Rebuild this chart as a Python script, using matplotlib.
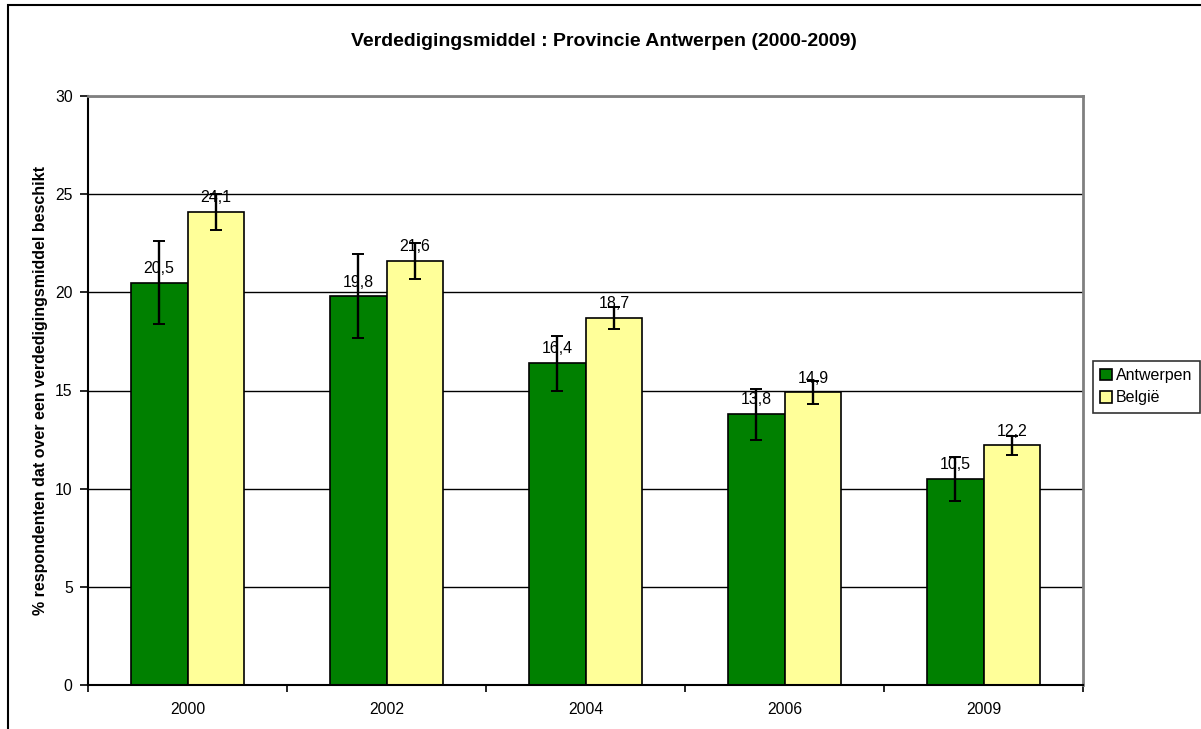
import matplotlib
matplotlib.use("Agg")
import matplotlib.pyplot as plt
import numpy as np
from matplotlib.patches import Rectangle

plt.rcParams['font.family'] = ['Liberation Sans', 'DejaVu Sans']

years = ["2000", "2002", "2004", "2006", "2009"]
antwerpen = [20.5, 19.8, 16.4, 13.8, 10.5]
belgie = [24.1, 21.6, 18.7, 14.9, 12.2]
antwerpen_err = [2.1, 2.15, 1.4, 1.3, 1.13]
belgie_err = [0.92, 0.9, 0.56, 0.57, 0.5]
labels_ant = ["20,5", "19,8", "16,4", "13,8", "10,5"]
labels_bel = ["24,1", "21,6", "18,7", "14,9", "12,2"]

fig = plt.figure(figsize=(12.01, 7.29), dpi=100)
fig.patch.set_facecolor('white')
# outer chart frame
fig.add_artist(Rectangle((8/1201, -0.05), 1.2, 1 - 5/729 + 0.05,
                         transform=fig.transFigure, fill=False,
                         edgecolor='black', linewidth=1.5))

ax = fig.add_axes([88/1201, 44/729, (1083-88)/1201, (685-96)/729])
x = np.arange(len(years))
w = 1/3.5
ax.set_axisbelow(True)
ax.yaxis.grid(True, color='black', linewidth=1)
b1 = ax.bar(x - w/2, antwerpen, w, color='#008000', edgecolor='black', linewidth=1.2,
            label='Antwerpen', zorder=2)
b2 = ax.bar(x + w/2, belgie, w, color='#FFFF99', edgecolor='black', linewidth=1.2,
            label='België', zorder=2)
ax.errorbar(x - w/2, antwerpen, yerr=antwerpen_err, fmt='none', ecolor='black',
            elinewidth=1.7, capsize=4, capthick=1.4, zorder=3)
ax.errorbar(x + w/2, belgie, yerr=belgie_err, fmt='none', ecolor='black',
            elinewidth=1.7, capsize=4, capthick=1.4, zorder=3)

for xi, v, t in zip(x - w/2, antwerpen, labels_ant):
    ax.annotate(t, (xi, v), xytext=(0, 7), textcoords='offset points',
                ha='center', va='baseline', fontsize=11.5, zorder=4)
for xi, v, t in zip(x + w/2, belgie, labels_bel):
    ax.annotate(t, (xi, v), xytext=(0, 7), textcoords='offset points',
                ha='center', va='baseline', fontsize=11.5, zorder=4)

ax.set_xlim(-0.5, len(years) - 0.5)
ax.set_ylim(0, 30)
ax.set_yticks(range(0, 31, 5))
ax.set_xticks(x)
ax.set_xticklabels(years, fontsize=11.3)
ax.set_xticks(np.arange(-0.5, len(years), 1), minor=True)
ax.tick_params(axis='x', which='major', length=0, pad=12)
ax.tick_params(axis='x', which='minor', length=5, width=1.2, direction='out')
ax.tick_params(axis='y', length=6, width=1.2, direction='out', labelsize=11.3, pad=5)

for s in ['top', 'right']:
    ax.spines[s].set_color('#808080')
    ax.spines[s].set_linewidth(2)
for s in ['left', 'bottom']:
    ax.spines[s].set_color('black')
    ax.spines[s].set_linewidth(1.5)

ax.set_ylabel('% respondenten dat over een verdedigingsmiddel beschikt',
              fontsize=11.5, fontweight='bold', labelpad=5)

fig.text(0.503, 1 - 41/729, 'Verdedigingsmiddel : Provincie Antwerpen (2000-2009)',
         ha='center', va='center', fontsize=14, fontweight='bold')

leg = fig.legend(handles=[b1, b2], loc='upper left',
                 bbox_to_anchor=(1093/1201, 1 - 361/729), fontsize=11.5,
                 frameon=True, fancybox=False, edgecolor='black',
                 handlelength=0.75, handleheight=0.75, handletextpad=0.25,
                 borderpad=0.45, labelspacing=0.45, borderaxespad=0)
leg.get_frame().set_linewidth(1.2)

fig.savefig('out.png', dpi=100)
